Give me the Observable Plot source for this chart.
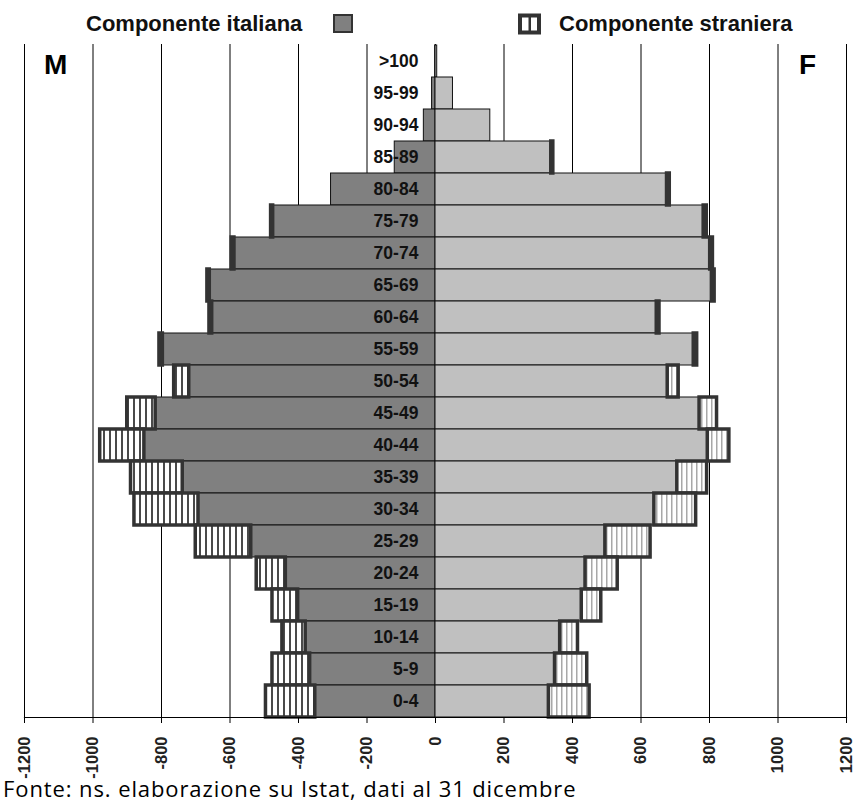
<!DOCTYPE html>
<html>
<head>
<meta charset="utf-8">
<script src="https://cdn.jsdelivr.net/npm/d3@7"></script>
<script src="https://cdn.jsdelivr.net/npm/@observablehq/plot@0.6"></script>
<style>
  html, body { margin: 0; padding: 0; background: #fff; }
  #wrap { width: 858px; height: 802px; position: relative; }
  #legend { display: block; }
  #chart svg { display: block; }
  #caption { font-family: "Open Sans", "Noto Sans", sans-serif; font-size: 22px; letter-spacing: 0.9px; line-height: 20px; height: 20px; margin-top: -2px; padding-left: 3px; color: #000; white-space: nowrap; }
</style>
</head>
<body>
<div id="wrap">
  <svg id="legend" width="858" height="40"></svg>
  <div id="chart"></div>
  <div id="caption"></div>
</div>
<script>
// ---- data (top row first) ----
const ages = [">100","95-99","90-94","85-89","80-84","75-79","70-74","65-69","60-64","55-59","50-54","45-49","40-44","35-39","30-34","25-29","20-24","15-19","10-14","5-9","0-4"];
const maleItalian   = [1, 10, 34, 119, 305, 474, 587, 659, 652, 796, 719, 817, 850, 738, 692, 538, 437, 401, 379, 366, 351];
const maleForeign   = [0, 0, 0, 0, 0, 6, 8, 7, 8, 10, 44, 83, 129, 151, 187, 162, 85, 75, 68, 110, 144];
const femaleItalian = [5, 51, 160, 338, 676, 783, 802, 807, 646, 754, 678, 771, 795, 706, 639, 496, 438, 427, 364, 349, 331];
const femaleForeign = [0, 0, 0, 6, 8, 9, 8, 8, 8, 10, 32, 51, 63, 87, 122, 132, 94, 57, 52, 94, 119];
const xTicks = [-1200, -1000, -800, -600, -400, -200, 0, 200, 400, 600, 800, 1000, 1200];
const legendLabels = ["Componente italiana", "Componente straniera"];
const sideLabels = ["M", "F"];
const captionText = "Fonte: ns. elaborazione su Istat, dati al 31 dicembre";

const rows = ages.map((age, i) => ({
  age, mIt: maleItalian[i], mFo: maleForeign[i], fIt: femaleItalian[i], fFo: femaleForeign[i]
}));

const FONT = "'Liberation Sans', Arial, sans-serif";

const chart = Plot.plot({
  width: 858,
  height: 740,
  marginTop: 4,
  marginBottom: 63,
  marginLeft: 24,
  marginRight: 12,
  style: { fontFamily: FONT, background: "white", overflow: "visible" },
  x: { domain: [-1200, 1200] },
  y: { domain: ages, padding: 0, axis: null },
  marks: [
    Plot.ruleX(xTicks, { stroke: "#000", strokeWidth: 1 }),
    Plot.barX(rows, { y: "age", x1: d => -d.mIt, x2: 0, fill: "#808080", stroke: "#111", strokeWidth: 1 }),
    Plot.barX(rows, { y: "age", x1: 0, x2: "fIt", fill: "#c0c0c0", stroke: "#111", strokeWidth: 1 }),
    Plot.barX(rows.filter(d => d.mFo > 0), { y: "age", x1: d => -d.mIt - d.mFo, x2: d => -d.mIt, fill: "url(#hatchM)", stroke: "#333", strokeWidth: 3.5 }),
    Plot.barX(rows.filter(d => d.fFo > 0), { y: "age", x1: "fIt", x2: d => d.fIt + d.fFo, fill: "url(#hatchF)", stroke: "#333", strokeWidth: 3.5 }),
    Plot.text(rows, { y: "age", x: -50, text: "age", textAnchor: "end", fontSize: 17.5, fontWeight: "bold", fill: "#111", fontFamily: FONT }),
    Plot.text([sideLabels[0]], { x: -1143, y: () => ages[0], dy: 4, text: d => d, textAnchor: "start", fontSize: 28, fontWeight: "bold", fill: "#000", fontFamily: FONT }),
    Plot.text([sideLabels[1]], { x: 1061, y: () => ages[0], dy: 4, text: d => d, textAnchor: "start", fontSize: 28, fontWeight: "bold", fill: "#000", fontFamily: FONT }),
    Plot.frame({ anchor: "bottom", stroke: "#000", strokeWidth: 1.2 }),
    Plot.axisX(xTicks, { anchor: "bottom", tickRotate: -90, tickSize: 6, tickPadding: 13, tickFormat: d => String(d), label: null, stroke: "#000", fill: "#222", fontSize: 16.5, fontWeight: "bold", fontFamily: FONT })
  ]
});

const svgSel = d3.select(chart);

// patterns for the foreign component
const defs = svgSel.insert("defs", ":first-child");
const pM = defs.append("pattern").attr("id", "hatchM").attr("patternUnits", "userSpaceOnUse").attr("width", 6).attr("height", 10);
pM.append("rect").attr("width", 6).attr("height", 10).attr("fill", "#fff");
pM.append("rect").attr("x", 1).attr("width", 2).attr("height", 10).attr("fill", "#4a4a4a");
const pF = defs.append("pattern").attr("id", "hatchF").attr("patternUnits", "userSpaceOnUse").attr("width", 5).attr("height", 10);
pF.append("rect").attr("width", 5).attr("height", 10).attr("fill", "#fff");
pF.append("rect").attr("x", 1).attr("width", 1.5).attr("height", 10).attr("fill", "#a8a8a8");

document.getElementById("chart").appendChild(chart);

// legend above the chart
const lg = d3.select("#legend");
lg.append("text").attr("x", 86).attr("y", 31).attr("font-family", FONT).attr("font-size", 22).attr("font-weight", "bold").attr("fill", "#111").text(legendLabels[0]);
lg.append("rect").attr("x", 334).attr("y", 15).attr("width", 18).attr("height", 17).attr("fill", "#808080").attr("stroke", "#333").attr("stroke-width", 2);
lg.append("rect").attr("x", 520).attr("y", 15.5).attr("width", 19).attr("height", 17).attr("fill", "#fff").attr("stroke", "#333").attr("stroke-width", 4);
lg.append("rect").attr("x", 528.5).attr("y", 15.5).attr("width", 2.5).attr("height", 17).attr("fill", "#333");
lg.append("text").attr("x", 559).attr("y", 31).attr("font-family", FONT).attr("font-size", 22).attr("font-weight", "bold").attr("fill", "#111").text(legendLabels[1]);

document.getElementById("caption").textContent = captionText;
</script>
</body>
</html>
